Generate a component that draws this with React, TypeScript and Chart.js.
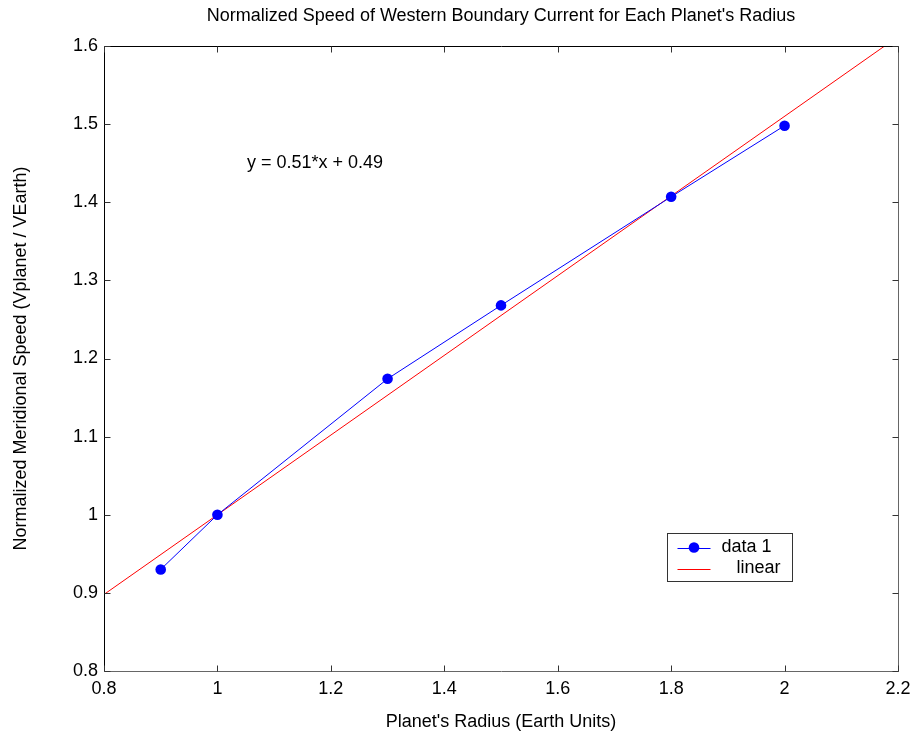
import React, { useEffect, useRef } from "react";
import { Chart, registerables } from "chart.js";
Chart.register(...registerables);

const radius = [0.9, 1.0, 1.3, 1.5, 1.8, 2.0];
const speed = [0.93, 1.0, 1.174, 1.268, 1.407, 1.498];
const linearX = [0.8, 2.2];
const linearY = [0.898, 1.612];
const xRange = [0.8, 2.2];
const yRange = [0.8, 1.6];
const xStep = 0.2;
const yStep = 0.1;
const titleText = "Normalized Speed of Western Boundary Current for Each Planet's Radius";
const xTitle = "Planet's Radius (Earth Units)";
const yTitle = "Normalized Meridional Speed (Vplanet / VEarth)";
const seriesLabels = ["data 1", "  linear"];
const equationText = "y = 0.51*x + 0.49";
const equationPos = [1.052, 1.45];

const FONT = "'Liberation Sans', Arial, sans-serif";
const FS = 18;

const framePlugin = {
  id: "matlabFrame",
  afterDraw(chart: any) {
    const ctx = chart.ctx;
    const { left, right, top, bottom } = chart.chartArea;
    const xs = chart.scales.x;
    const ys = chart.scales.y;
    const L = Math.round(left) + 0.5;
    const R = Math.round(right) + 0.5;
    const T = Math.round(top) + 0.5;
    const B = Math.round(bottom) + 0.5;
    ctx.save();
    ctx.lineWidth = 1;
    ctx.strokeStyle = "#000";
    ctx.beginPath();
    ctx.moveTo(L, B);
    ctx.lineTo(L, T);
    ctx.lineTo(R, T);
    ctx.stroke();
    ctx.strokeStyle = "#666";
    ctx.beginPath();
    ctx.moveTo(R, T);
    ctx.lineTo(R, B);
    ctx.lineTo(L, B);
    ctx.stroke();
    const tl = 6;
    ctx.strokeStyle = "#333";
    ctx.beginPath();
    xs.ticks.forEach((t: any) => {
      const px = Math.round(xs.getPixelForValue(t.value)) + 0.5;
      ctx.moveTo(px, B);
      ctx.lineTo(px, B - tl);
      ctx.moveTo(px, T);
      ctx.lineTo(px, T + tl);
    });
    ys.ticks.forEach((t: any) => {
      const py = Math.round(ys.getPixelForValue(t.value)) + 0.5;
      ctx.moveTo(L, py);
      ctx.lineTo(L + tl, py);
      ctx.moveTo(R, py);
      ctx.lineTo(R - tl, py);
    });
    ctx.stroke();

    ctx.fillStyle = "#000";
    ctx.font = `${FS}px ${FONT}`;
    ctx.textAlign = "center";
    ctx.textBaseline = "middle";
    const cx = (left + right) / 2;
    ctx.fillText(titleText, cx, 16);
    ctx.fillText(xTitle, cx, 722);
    ctx.save();
    ctx.translate(21, (top + bottom) / 2);
    ctx.rotate(-Math.PI / 2);
    ctx.fillText(yTitle, 0, 0);
    ctx.restore();

    ctx.textAlign = "left";
    ctx.fillText(equationText, xs.getPixelForValue(equationPos[0]), ys.getPixelForValue(equationPos[1]));

    const bx = Math.round(right) - 231 + 0.5;
    const by = Math.round(bottom) - 138 + 0.5;
    const bw = 125;
    const bh = 48;
    ctx.fillStyle = "#fff";
    ctx.fillRect(bx, by, bw, bh);
    ctx.strokeStyle = "#333";
    ctx.strokeRect(bx, by, bw, bh);
    const r1 = by + 14;
    const r2 = by + 35;
    ctx.strokeStyle = "#0000ff";
    ctx.beginPath();
    ctx.moveTo(bx + 10, Math.round(r1) + 0.5);
    ctx.lineTo(bx + 43, Math.round(r1) + 0.5);
    ctx.stroke();
    ctx.fillStyle = "#0000ff";
    ctx.beginPath();
    ctx.arc(bx + 26.5, r1, 5.3, 0, Math.PI * 2);
    ctx.fill();
    ctx.strokeStyle = "#ff0000";
    ctx.beginPath();
    ctx.moveTo(bx + 10, Math.round(r2) + 0.5);
    ctx.lineTo(bx + 43, Math.round(r2) + 0.5);
    ctx.stroke();
    ctx.fillStyle = "#000";
    ctx.textBaseline = "middle";
    ctx.fillText(seriesLabels[0], bx + 54, r1);
    ctx.fillText(seriesLabels[1].trim(), bx + 69, r2);
    ctx.restore();
  },
};

export default function App() {
  const ref = useRef<HTMLCanvasElement>(null);
  useEffect(() => {
    document.body.style.margin = "0";
    const chart = new Chart(ref.current!, {
      type: "scatter",
      data: {
        datasets: [
          {
            label: seriesLabels[0],
            data: radius.map((x, i) => ({ x, y: speed[i] })),
            showLine: true,
            borderColor: "#0000ff",
            backgroundColor: "#0000ff",
            borderWidth: 1,
            pointRadius: 5.3,
            pointBorderWidth: 0,
          },
          {
            label: seriesLabels[1],
            data: linearX.map((x, i) => ({ x, y: linearY[i] })),
            showLine: true,
            borderColor: "#ff0000",
            backgroundColor: "#ff0000",
            borderWidth: 1,
            pointRadius: 0,
          },
        ],
      },
      options: {
        responsive: false,
        animation: false,
        layout: { padding: { top: 46, right: 18, left: 0, bottom: 0 } },
        plugins: {
          legend: { display: false },
          title: { display: false },
          tooltip: { enabled: false },
        },
        scales: {
          x: {
            type: "linear",
            min: xRange[0],
            max: xRange[1],
            ticks: {
              stepSize: xStep,
              padding: 7,
              color: "#000",
              font: { family: FONT, size: FS },
              callback: (v: any) => Number(Number(v).toFixed(1)).toString(),
            },
            grid: { display: true, drawOnChartArea: false, drawTicks: false },
            border: { display: false },
            afterFit: (s: any) => {
              s.height = 69;
              s.paddingLeft = 0;
              s.paddingRight = 0;
            },
          },
          y: {
            type: "linear",
            min: yRange[0],
            max: yRange[1],
            ticks: {
              stepSize: yStep,
              padding: 6,
              color: "#000",
              font: { family: FONT, size: FS },
              callback: (v: any) => Number(Number(v).toFixed(1)).toString(),
            },
            grid: { display: true, drawOnChartArea: false, drawTicks: false },
            border: { display: false },
            afterFit: (s: any) => {
              s.width = 104;
              s.paddingTop = 0;
              s.paddingBottom = 0;
            },
          },
        },
      },
      plugins: [framePlugin],
    });
    return () => chart.destroy();
  }, []);
  return (
    <div style={{ position: "absolute", left: 0, top: 0, width: 916, height: 740, background: "#fff" }}>
      <canvas ref={ref} width={916} height={740} />
    </div>
  );
}
